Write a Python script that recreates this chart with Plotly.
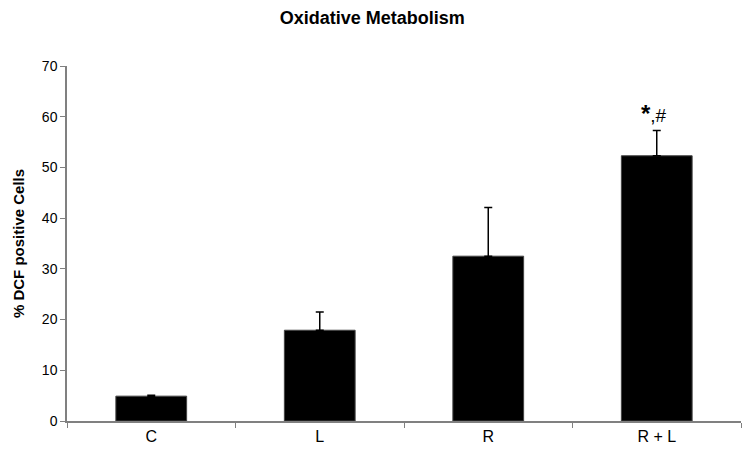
import plotly.graph_objects as go

categories = ["C", "L", "R", "R + L"]
values = [4.9, 17.9, 32.5, 52.3]
errors_up = [0.2, 3.6, 9.6, 5.0]
y_ticks = [0, 10, 20, 30, 40, 50, 60, 70]
annotation_text = "<b><span style='font-size:24px'>*</span></b>,#"

fig = go.Figure()
fig.add_trace(go.Bar(
    x=categories, y=values,
    marker=dict(color="black", line=dict(color="#444444", width=1)),
    error_y=dict(type="data", array=errors_up, arrayminus=[0]*4, symmetric=False,
                 color="black", thickness=1.5, width=4),
    width=0.42,
))

fig.add_annotation(x=categories[3], y=values[3] + errors_up[3], yref="y", xref="x",
                   text=annotation_text, showarrow=False, yanchor="bottom", yshift=1, xshift=-3,
                   font=dict(family="Liberation Sans, Arial", size=19, color="black"))

fig.update_layout(
    width=742, height=456,
    margin=dict(l=59, r=9, t=58, b=43),
    paper_bgcolor="white", plot_bgcolor="white",
    showlegend=False,
    title=dict(text="<b>Oxidative Metabolism</b>", x=0.491, xanchor="center", xref="container",
               y=1 - 10 / 456, yanchor="middle", yref="container",
               font=dict(family="Liberation Sans, Arial", size=18, color="black")),
    font=dict(family="Liberation Sans, Arial", size=14, color="black"),
)
fig.update_xaxes(
    showline=True, linecolor="#808080", linewidth=1.5,
    ticks="outside", tickson="boundaries", ticklen=5, tickcolor="#808080",
    showgrid=False, tickfont=dict(size=16),
)
fig.update_yaxes(
    range=[0, 70], tickvals=y_ticks, showline=True, linecolor="#808080", linewidth=1.5,
    ticks="outside", ticklen=5, tickcolor="#808080", showgrid=False, zeroline=False,
    title=dict(text="<b>% DCF positive Cells</b>", font=dict(size=15), standoff=14),
    tickfont=dict(size=14),
)

fig.write_html("out.html")
